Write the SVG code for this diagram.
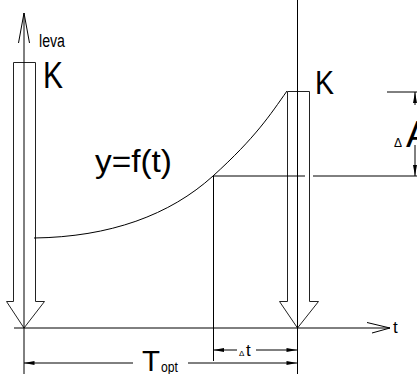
<svg xmlns="http://www.w3.org/2000/svg" width="417" height="374" viewBox="0 0 417 374">
<style>
.ln{stroke:#000;stroke-width:1;fill:none}
.hol{stroke:#222;stroke-width:1;fill:#fff}
.ah{fill:#000;stroke:none}
text{font-family:"Liberation Sans",Arial,sans-serif;fill:#000}
</style>
<rect width="417" height="374" fill="#fff"/>
<g id="left-arrow">
<path class="hol" d="M13.5,62.5 H35.5 V301.5 H44.5 L24,328 L6.5,301.5 H13.5 Z"/>
</g>
<g id="right-arrow">
<path class="hol" d="M287.5,91.5 H309.5 V301.5 H318.5 L297.5,328 L279.5,301.5 H287.5 Z"/>
</g>
<g id="connectors">
<path class="ln" d="M24,13 V374"/>
<path class="ln" d="M18.5,43 L24,13 L29.5,43"/>
<path class="ln" d="M297.5,0 V374"/>
<path class="ln" d="M297.5,328 V374" stroke-width="2"/>
<path class="ln" d="M14,328 H390"/>
<path class="ln" d="M367,322.5 L390,328 L372,333"/>
<path class="ln" d="M34,238 C110,237 170,215 213,176 S270,115 287,91"/>
<path class="ln" d="M213,176 H305 M313,176 H417"/>
<path class="ln" d="M213.5,176 V361"/>
<path class="ln" d="M387,92 H417"/>
<path class="ln" d="M415,92 V105 M415,145 V176"/>
<path class="ah" d="M415,92 L413,103 L417,103 Z"/>
<path class="ah" d="M415,176 L413,165 L417,165 Z"/>
<path class="ln" d="M213.5,350 H237 M256,350 H297"/>
<path class="ah" d="M213.5,350 L224,348 L224,352 Z"/>
<path class="ah" d="M297,350 L286.5,348 L286.5,352 Z"/>
<path class="ln" d="M24,363 H133 M188,363 H297"/>
<path class="ah" d="M24,363 L34.5,361 L34.5,365 Z"/>
<path class="ah" d="M297,363 L286.5,361 L286.5,365 Z"/>
</g>
<g id="labels">
<text x="39" y="47" font-size="18" textLength="26" lengthAdjust="spacingAndGlyphs">leva</text>
<text x="43" y="88" font-size="36" textLength="20" lengthAdjust="spacingAndGlyphs">K</text>
<text x="315" y="94" font-size="34" textLength="19" lengthAdjust="spacingAndGlyphs">K</text>
<text x="95" y="172" font-size="31" textLength="77" lengthAdjust="spacingAndGlyphs">y=f(t)</text>
<text x="393" y="333" font-size="17">t</text>
<text x="239" y="356" font-size="8">Δ</text>
<text x="246" y="356" font-size="17">t</text>
<text x="142" y="371" font-size="29" textLength="18" lengthAdjust="spacingAndGlyphs">T</text>
<text x="161" y="372" font-size="14" textLength="17" lengthAdjust="spacingAndGlyphs">opt</text>
<text x="394" y="147" font-size="12">Δ</text>
<text x="406" y="147" font-size="37">A</text>
</g>
</svg>
